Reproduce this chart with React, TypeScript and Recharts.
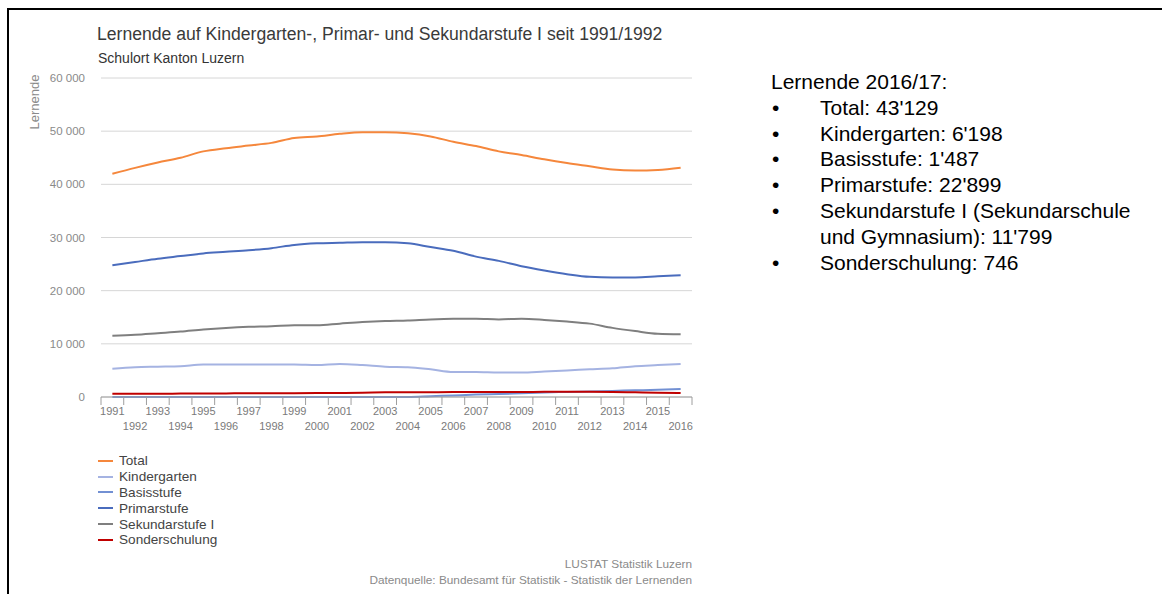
import React from "react"
import { LineChart, Line, XAxis, YAxis, CartesianGrid } from "recharts"

const YEARS = [
  "1991", "1992", "1993", "1994", "1995", "1996", "1997", "1998", "1999", "2000",
  "2001", "2002", "2003", "2004", "2005", "2006", "2007", "2008", "2009", "2010",
  "2011", "2012", "2013", "2014", "2015", "2016",
]

const TOTAL = [
  42000, 43100, 44100, 45000, 46200, 46800, 47300, 47800, 48700, 49000,
  49500, 49800, 49800, 49600, 49000, 48000, 47200, 46200, 45500, 44700,
  44000, 43400, 42800, 42600, 42700, 43129,
]
const KINDERGARTEN = [
  5300, 5600, 5700, 5800, 6100, 6100, 6100, 6100, 6100, 6000,
  6200, 6000, 5700, 5600, 5200, 4700, 4700, 4600, 4600, 4800,
  5000, 5200, 5400, 5800, 6000, 6198,
]
const BASISSTUFE = [
  0, 0, 0, 0, 0, 0, 0, 0, 0, 0,
  0, 0, 0, 0, 150, 300, 450, 550, 700, 850,
  950, 1050, 1150, 1250, 1350, 1487,
]
const PRIMARSTUFE = [
  24800, 25400, 26000, 26500, 27000, 27300, 27600, 28000, 28600, 28900,
  29000, 29100, 29100, 28900, 28200, 27500, 26400, 25600, 24600, 23800,
  23100, 22600, 22500, 22500, 22700, 22899,
]
const SEKUNDARSTUFE = [
  11500, 11700, 12000, 12300, 12700, 13000, 13200, 13300, 13500, 13500,
  13800, 14100, 14300, 14400, 14600, 14700, 14700, 14600, 14700, 14500,
  14200, 13800, 13000, 12400, 11900, 11799,
]
const SONDERSCHULUNG = [
  600, 610, 620, 640, 660, 680, 700, 710, 720, 730,
  760, 800, 880, 900, 910, 920, 920, 920, 940, 980,
  1000, 1000, 960, 880, 800, 746,
]

const Y_TICKS = [0, 10000, 20000, 30000, 40000, 50000, 60000]

const SUMMARY = [
  "Total: 43'129",
  "Kindergarten: 6'198",
  "Basisstufe: 1'487",
  "Primarstufe: 22'899",
  "Sekundarstufe I (Sekundarschule|und Gymnasium): 11'799",
  "Sonderschulung: 746",
]

const SERIES = [
  { key: "total", name: "Total", color: "#f5873c" },
  { key: "kindergarten", name: "Kindergarten", color: "#a5b3e2" },
  { key: "basisstufe", name: "Basisstufe", color: "#7290d3" },
  { key: "primarstufe", name: "Primarstufe", color: "#4a6cbd" },
  { key: "sekundarstufe", name: "Sekundarstufe I", color: "#7f7f7f" },
  { key: "sonderschulung", name: "Sonderschulung", color: "#c00000" },
]

const data = YEARS.map((year, i) => ({
  year,
  total: TOTAL[i],
  kindergarten: KINDERGARTEN[i],
  basisstufe: BASISSTUFE[i],
  primarstufe: PRIMARSTUFE[i],
  sekundarstufe: SEKUNDARSTUFE[i],
  sonderschulung: SONDERSCHULUNG[i],
}))

const FONT = "'Liberation Sans', Arial, sans-serif"
const PLOT_LEFT = 101
const PLOT_RIGHT = 692
const STEP = (PLOT_RIGHT - PLOT_LEFT) / YEARS.length

const fmt = (v: number) => String(v).replace(/\B(?=(\d{3})+(?!\d))/g, " ")

// year labels alternate between two rows, tick marks sit between the years
const XTick = (props: any) => {
  const { x, y, payload, index } = props
  const half = STEP / 2
  const last = index === YEARS.length - 1
  return (
    <g>
      <line x1={x - half} x2={x - half} y1={y} y2={y + 8} stroke="#9e9e9e" />
      {last && <line x1={x + half} x2={x + half} y1={y} y2={y + 8} stroke="#9e9e9e" />}
      <text x={x} y={y + (index % 2 === 0 ? 18 : 33)} textAnchor="middle" fontSize={11} fill="#7a7a7a" fontFamily={FONT}>
        {payload.value}
      </text>
    </g>
  )
}

const YLabel = (props: any) => {
  const { viewBox } = props
  const cx = 34
  const cy = viewBox.y + 24
  return (
    <text x={cx} y={cy} transform={`rotate(-90 ${cx} ${cy})`} textAnchor="middle" dominantBaseline="central" fontSize={13} fill="#8a8a8a" fontFamily={FONT}>
      Lernende
    </text>
  )
}

export default function App() {
  return (
    <div style={{ position: "absolute", left: 0, top: 0, width: 1162, height: 594, background: "#fff", fontFamily: FONT, overflow: "hidden" }}>
      <div style={{ position: "absolute", left: 7, top: 8, width: 1160, height: 600, borderTop: "2px solid #000", borderLeft: "2px solid #000" }} />

      <div style={{ position: "absolute", left: 97, top: 26, fontSize: 17.6, lineHeight: 1, color: "#3a3a3a", whiteSpace: "nowrap" }}>
        Lernende auf Kindergarten-, Primar- und Sekundarstufe I seit 1991/1992
      </div>
      <div style={{ position: "absolute", left: 98, top: 51, fontSize: 14, lineHeight: 1, color: "#333", whiteSpace: "nowrap" }}>
        Schulort Kanton Luzern
      </div>

      <div style={{ position: "absolute", left: 0, top: 0 }}>
        <LineChart width={700} height={440} data={data} margin={{ top: 78, right: 8, bottom: 13, left: 0 }}>
          <CartesianGrid vertical={false} stroke="#d6d6d6" />
          <XAxis
            dataKey="year"
            interval={0}
            height={30}
            padding={{ left: STEP / 2, right: STEP / 2 }}
            tickLine={false}
            tickSize={0}
            tickMargin={0}
            axisLine={{ stroke: "#9e9e9e" }}
            tick={<XTick />}
          />
          <YAxis
            width={PLOT_LEFT}
            domain={[0, 60000]}
            ticks={Y_TICKS}
            tickFormatter={fmt}
            axisLine={false}
            tickLine={false}
            tickSize={6}
            tickMargin={10}
            tick={{ fontSize: 11.5, fill: "#8a8a8a", fontFamily: FONT }}
            label={{ content: <YLabel /> }}
          />
          {SERIES.map((s) => (
            <Line
              key={s.key}
              type="monotone"
              dataKey={s.key}
              name={s.name}
              stroke={s.color}
              strokeWidth={2}
              dot={false}
              isAnimationActive={false}
            />
          ))}
        </LineChart>
      </div>

      <div style={{ position: "absolute", left: 98, top: 453 }}>
        {SERIES.map((s) => (
          <div key={s.key} style={{ display: "flex", alignItems: "center", height: 15.8, fontSize: 13.6, color: "#444", whiteSpace: "nowrap" }}>
            <span style={{ display: "inline-block", width: 15, height: 2, background: s.color, marginRight: 6 }} />
            {s.name}
          </div>
        ))}
      </div>

      <div style={{ position: "absolute", right: 1162 - 692, top: 556, fontSize: 11.8, color: "#8a8a8a", textAlign: "right", lineHeight: "16px", whiteSpace: "nowrap" }}>
        <div>LUSTAT Statistik Luzern</div>
        <div>Datenquelle: Bundesamt für Statistik - Statistik der Lernenden</div>
      </div>

      <div style={{ position: "absolute", left: 771, top: 69, fontSize: 21, color: "#000", lineHeight: "25.8px", whiteSpace: "nowrap" }}>
        <div>Lernende 2016/17:</div>
        {SUMMARY.map((item) => (
          <div key={item} style={{ display: "flex" }}>
            <span style={{ width: 48, flexShrink: 0, paddingLeft: 1 }}>•</span>
            <span>
              {item.split("|").map((part, i) => (
                <React.Fragment key={i}>
                  {i > 0 && <br />}
                  {part}
                </React.Fragment>
              ))}
            </span>
          </div>
        ))}
      </div>
    </div>
  )
}
